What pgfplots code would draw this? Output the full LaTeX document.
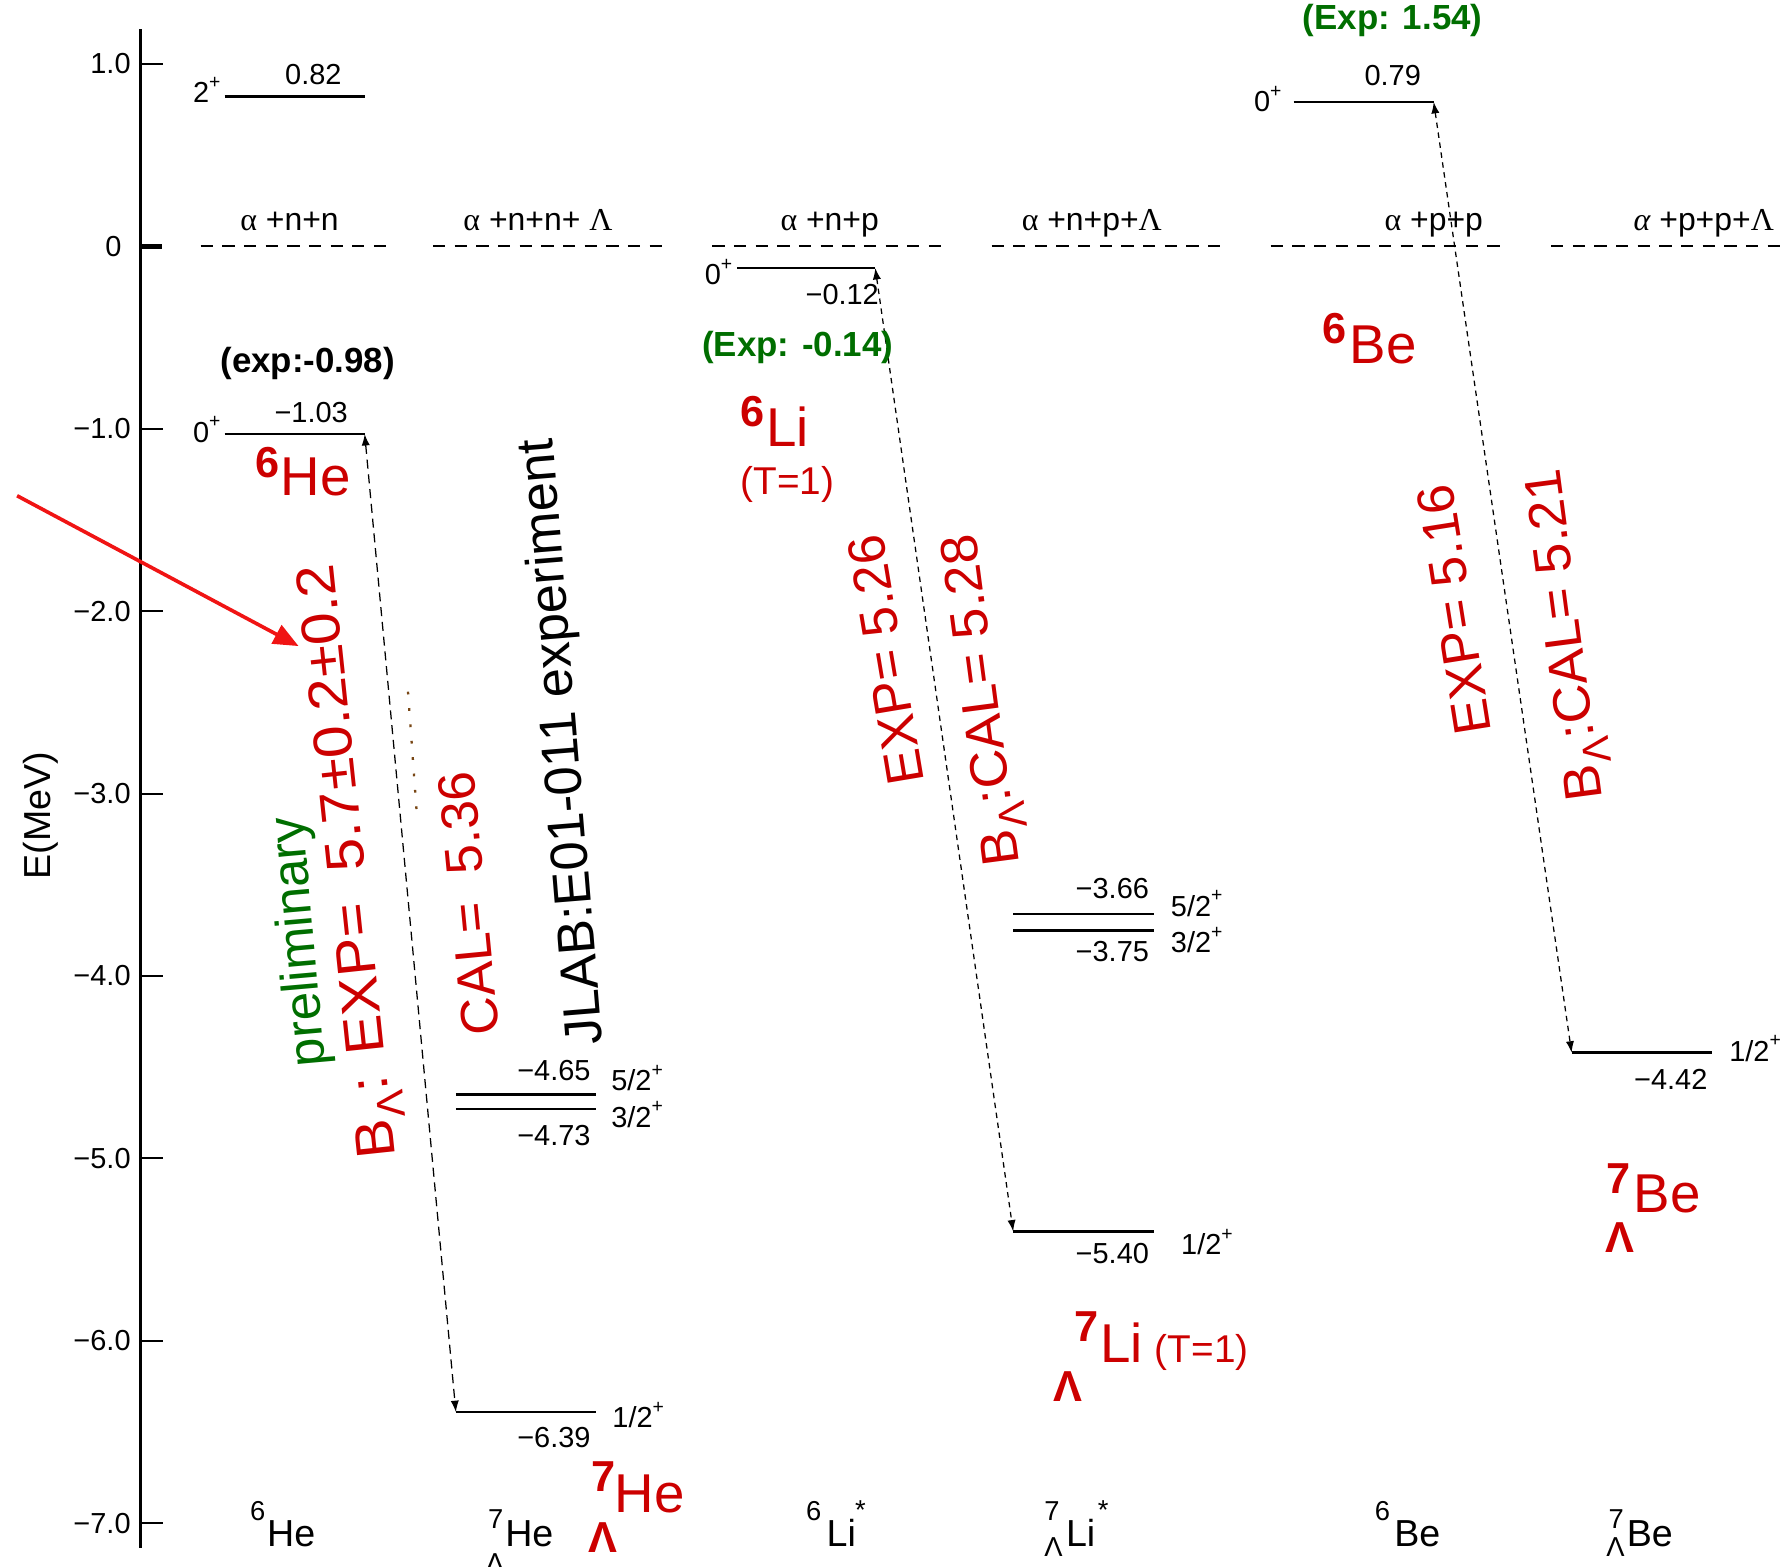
\documentclass[border=0pt]{standalone}
\usepackage{fontspec}
\setmainfont{Liberation Sans}
\newfontfamily\serif{Liberation Serif}
\usepackage{pgfplots}
\pgfplotsset{compat=1.18}
\usetikzlibrary{arrows.meta}
\definecolor{nred}{RGB}{204,0,0}
\definecolor{ngreen}{RGB}{0,110,0}
\definecolor{ared}{RGB}{240,20,20}
\definecolor{brn}{RGB}{120,70,20}
\newcommand\fs[1]{\fontsize{#1}{#1}\selectfont}
\newcommand\sps[1]{\raisebox{0.5em}{\fs{8.5}#1}}
\newcommand\sub[1]{\raisebox{-0.25em}{\fs{17}#1}}
\tikzset{
  lv/.style={anchor=base, inner sep=0pt, font=\fs{12.7}},
  lvw/.style={anchor=base west, inner sep=0pt, font=\fs{12.7}},
  th/.style={anchor=base, inner sep=0pt, font=\fs{14}},
  big/.style={anchor=base west, inner sep=0pt, font=\fs{24}, text=nred},
  bnum/.style={anchor=base west, inner sep=0pt, font=\fs{19}\bfseries, text=nred},
  bot/.style={anchor=base west, inner sep=0pt, font=\fs{16.5}},
  bsup/.style={anchor=base west, inner sep=0pt, font=\fs{12}},
  rt/.style={anchor=center, inner sep=0pt, font=\fs{23}},
}
\begin{document}
\begin{tikzpicture}
\begin{axis}[
  x=0.5pt, y=80.05pt,
  xmin=123, xmax=1568, ymin=-7.133, ymax=1.19,
  axis x line=none, axis y line=left,
  axis line style={-, line width=1.3pt},
  clip=false,
  tick align=inside,
  ytick={-7,-6,-5,-4,-3,-2,-1,1},
  yticklabels={−7.0,−6.0,−5.0,−4.0,−3.0,−2.0,−1.0,1.0},
  extra y ticks={0}, extra y tick labels={0},
  extra y tick style={major tick length=9.5pt, major tick style={line width=2.2pt}, yticklabel style={xshift=-4pt}},
  major tick length=10pt,
  major tick style={line width=0.9pt, black},
  yticklabel style={font=\fs{12.7}, inner sep=0pt, xshift=-4pt},
]
% bounding box corners
\coordinate (BL) at (axis cs:0,-7.239);
\coordinate (TR) at (axis cs:1568,1.349);

% thresholds
\addplot[black, line width=1pt, dash pattern=on 5.4pt off 4.1pt] coordinates {(176,0) (340,0)};
\addplot[black, line width=1pt, dash pattern=on 5.4pt off 4.1pt] coordinates {(380,0) (585,0)};
\addplot[black, line width=1pt, dash pattern=on 5.4pt off 4.1pt] coordinates {(625,0) (830,0)};
\addplot[black, line width=1pt, dash pattern=on 5.4pt off 4.1pt] coordinates {(870,0) (1075,0)};
\addplot[black, line width=1pt, dash pattern=on 5.4pt off 4.1pt] coordinates {(1115,0) (1321,0)};
\addplot[black, line width=1pt, dash pattern=on 5.4pt off 4.1pt] coordinates {(1361,0) (1566,0)};

% levels
\addplot[black, line width=1pt] coordinates {(197,0.82) (320,0.82)};
\addplot[black, line width=1pt] coordinates {(197,-1.03) (320,-1.03)};
\addplot[black, line width=1pt] coordinates {(400,-4.65) (523,-4.65)};
\addplot[black, line width=1pt] coordinates {(400,-4.73) (523,-4.73)};
\addplot[black, line width=1pt] coordinates {(400,-6.39) (523,-6.39)};
\addplot[black, line width=1pt] coordinates {(647,-0.12) (768,-0.12)};
\addplot[black, line width=1pt] coordinates {(889,-3.66) (1013,-3.66)};
\addplot[black, line width=1pt] coordinates {(889,-3.75) (1013,-3.75)};
\addplot[black, line width=1pt] coordinates {(889,-5.40) (1013,-5.40)};
\addplot[black, line width=1pt] coordinates {(1135,0.79) (1258,0.79)};
\addplot[black, line width=1pt] coordinates {(1379,-4.42) (1502,-4.42)};

% binding-energy arrows
\addplot[black, line width=0.55pt, dash pattern=on 4pt off 2.5pt,
  arrows={Latex[length=5pt,width=3.6pt]-Latex[length=5pt,width=3.6pt]}] coordinates {(320,-1.03) (400,-6.39)};
\addplot[black, line width=0.55pt, dash pattern=on 2.4pt off 2pt,
  arrows={Latex[length=5pt,width=3.6pt]-Latex[length=5pt,width=3.6pt]}] coordinates {(768,-0.12) (889,-5.40)};
\addplot[black, line width=0.55pt, dash pattern=on 2.4pt off 2pt,
  arrows={Latex[length=5pt,width=3.6pt]-Latex[length=5pt,width=3.6pt]}] coordinates {(1258,0.79) (1379,-4.42)};
% faint dotted remnant
\addplot[brn, line width=1pt, dash pattern=on 1.2pt off 6pt] coordinates {(358,-2.442) (366,-3.136)};
% red pointer arrow
\addplot[ared, line width=1.6pt, arrows={-Triangle[length=11pt,width=9pt]}] coordinates {(15,-1.368) (262,-2.192)};

% y label
\node[rotate=90, inner sep=0pt, font=\fs{16.5}] at (axis cs:36,-3.122) {E(MeV)};

% threshold labels
\node[th] at (axis cs:254,0.085) {{\serif α} +n+n};
\node[th] at (axis cs:472,0.085) {{\serif α} +n+n+ {\serif Λ}};
\node[th] at (axis cs:728,0.085) {{\serif α} +n+p};
\node[th] at (axis cs:958,0.085) {{\serif α} +n+p+{\serif Λ}};
\node[th] at (axis cs:1258,0.085) {{\serif α} +p+p};
\node[th] at (axis cs:1495,0.085) {{\serif\itshape α} +p+p+{\serif Λ}};

% level labels 6He
\node[lv] at (axis cs:275,0.887) {0.82};
\node[lvw] at (axis cs:169,0.787) {2\sps{+}};
\node[lv] at (axis cs:273,-0.968) {−1.03};
\node[lvw] at (axis cs:169,-1.074) {0\sps{+}};
% 7LHe
\node[lv] at (axis cs:486,-4.575) {−4.65};
\node[lv] at (axis cs:486,-4.928) {−4.73};
\node[lvw] at (axis cs:536,-4.628) {5/2\sps{+}};
\node[lvw] at (axis cs:536,-4.828) {3/2\sps{+}};
\node[lv] at (axis cs:486,-6.583) {−6.39};
\node[lvw] at (axis cs:537,-6.477) {1/2\sps{+}};
% 6Li
\node[lvw] at (axis cs:618,-0.212) {0\sps{+}};
\node[lv] at (axis cs:739,-0.322) {−0.12};
% 7LLi
\node[lv] at (axis cs:976,-3.573) {−3.66};
\node[lv] at (axis cs:976,-3.923) {−3.75};
\node[lvw] at (axis cs:1027,-3.673) {5/2\sps{+}};
\node[lvw] at (axis cs:1027,-3.873) {3/2\sps{+}};
\node[lv] at (axis cs:976,-5.578) {−5.40};
\node[lvw] at (axis cs:1036,-5.528) {1/2\sps{+}};
% 6Be
\node[lv] at (axis cs:1222,0.883) {0.79};
\node[lvw] at (axis cs:1100,0.737) {0\sps{+}};
% 7LBe
\node[lv] at (axis cs:1466,-4.622) {−4.42};
\node[lvw] at (axis cs:1517,-4.466) {1/2\sps{+}};

% experimental values
\node[anchor=base, inner sep=0pt, font=\fs{15.3}\bfseries] at (axis cs:270,-0.693) {(exp:-0.98)};
\node[anchor=base, inner sep=0pt, font=\fs{15.3}\bfseries, text=ngreen] at (axis cs:700,-0.606) {(Exp: -0.14)};
\node[anchor=base, inner sep=0pt, font=\fs{15.3}\bfseries, text=ngreen] at (axis cs:1222,1.187) {(Exp: 1.54)};

% nucleus labels (red)
\node[bnum] at (axis cs:224,-1.266) {6};
\node[big] at (axis cs:246,-1.368) {He};
\node[bnum] at (axis cs:649,-0.991) {6};
\node[big] at (axis cs:672,-1.099) {Li};
\node[anchor=base, inner sep=0pt, font=\fs{17}, text=nred] at (axis cs:691,-1.362) {(T=1)};
\node[bnum] at (axis cs:1160,-0.531) {6};
\node[big] at (axis cs:1184,-0.643) {Be};
\node[bnum] at (axis cs:519,-6.827) {7};
\node[big] at (axis cs:539,-6.939) {He};
\node[bnum] at (axis cs:516,-7.158) {Λ};
\node[bnum] at (axis cs:942,-6.002) {7};
\node[big] at (axis cs:965,-6.121) {Li};
\node[anchor=base west, inner sep=0pt, font=\fs{17}, text=nred] at (axis cs:1013,-6.121) {(T=1)};
\node[bnum] at (axis cs:924,-6.334) {Λ};
\node[bnum] at (axis cs:1409,-5.191) {7};
\node[big] at (axis cs:1433,-5.297) {Be};
\node[bnum] at (axis cs:1408,-5.515) {Λ};

% rotated annotations
\node[rt, rotate=96, text=nred] at (axis cs:309,-3.370) {\scalebox{1.07}[1]{\fs{24}B\sub{Λ}: EXP=\ \ 5.7±0.2±0.2}};
\node[rt, rotate=95, text=ngreen, font=\fs{22.5}] at (axis cs:264,-3.811) {preliminary};
\node[rt, rotate=95.5, text=nred] at (axis cs:411,-3.604) {CAL=\ \ 5.36};
\node[rt, rotate=94.7] at (axis cs:495,-2.717) {JLAB:E01-011 experiment};
\node[rt, rotate=99.5, text=nred] at (axis cs:777,-2.267) {EXP= 5.26};
\node[rt, rotate=97.5, text=nred] at (axis cs:865,-2.486) {\scalebox{1.03}[1]{B\sub{Λ}:CAL= 5.28}};
\node[rt, rotate=99, text=nred] at (axis cs:1276,-1.992) {EXP= 5.16};
\node[rt, rotate=97.5, text=nred] at (axis cs:1377,-2.130) {\scalebox{1.03}[1]{B\sub{Λ}:CAL= 5.21}};

% bottom labels
\node[bsup] at (axis cs:219,-6.983) {6};
\node[bot] at (axis cs:234,-7.127) {He};
\node[bsup] at (axis cs:428,-7.027) {7};
\node[bsup] at (axis cs:426,-7.271) {Λ};
\node[bot] at (axis cs:443,-7.127) {He};
\node[bsup] at (axis cs:707,-6.983) {6};
\node[bot] at (axis cs:725,-7.127) {Li};
\node[bsup] at (axis cs:750,-6.977) {*};
\node[bsup] at (axis cs:916,-6.983) {7};
\node[bsup] at (axis cs:916,-7.183) {Λ};
\node[bot] at (axis cs:935,-7.127) {Li};
\node[bsup] at (axis cs:963,-6.977) {*};
\node[bsup] at (axis cs:1206,-6.983) {6};
\node[bot] at (axis cs:1223,-7.127) {Be};
\node[bsup] at (axis cs:1411,-7.027) {7};
\node[bsup] at (axis cs:1409,-7.183) {Λ};
\node[bot] at (axis cs:1427,-7.127) {Be};
\end{axis}
\pgfresetboundingbox
\path[use as bounding box] (BL) rectangle (TR);
\end{tikzpicture}
\end{document}
